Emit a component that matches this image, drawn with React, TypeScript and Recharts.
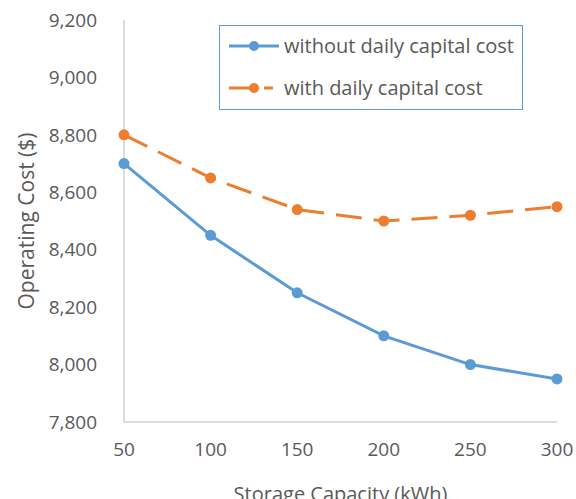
import React from "react";
import { LineChart, Line, XAxis, YAxis, Label } from "recharts";

const capacities = [50, 100, 150, 200, 250, 300];
const withoutCapital = [8700, 8450, 8250, 8100, 8000, 7950];
const withCapital = [8800, 8650, 8540, 8500, 8520, 8550];
const yTicks = [7800, 8000, 8200, 8400, 8600, 8800, 9000, 9200];

const data = capacities.map((c, i) => ({
  cap: c,
  without: withoutCapital[i],
  with: withCapital[i],
}));

const BLUE = "#5b9bd5";
const ORANGE = "#ed7d31";
const TEXT = "#595959";
const FONT = "'Open Sans', Lato, sans-serif";
const FS = 19;

const fmt = (v: number) => v.toLocaleString("en-US");

const LegendBox = () => (
  <div
    style={{
      position: "absolute",
      left: 219,
      top: 25,
      width: 304,
      height: 85,
      border: `1.5px solid ${BLUE}`,
      boxSizing: "border-box",
      fontFamily: FONT,
      fontSize: 20,
      color: TEXT,
      whiteSpace: "nowrap",
    }}
  >
    <div style={{ position: "absolute", left: 8, top: 9, display: "flex", alignItems: "center" }}>
      <svg width={52} height={14}>
        <line x1={1} y1={7} x2={51} y2={7} stroke={BLUE} strokeWidth={3} />
        <circle cx={26} cy={7} r={5} fill={BLUE} />
      </svg>
      <span style={{ marginLeft: 4, lineHeight: "22px" }}>without daily capital cost</span>
    </div>
    <div style={{ position: "absolute", left: 8, top: 51, display: "flex", alignItems: "center" }}>
      <svg width={52} height={14}>
        <line x1={1} y1={7} x2={26} y2={7} stroke={ORANGE} strokeWidth={3} />
        <circle cx={26} cy={7} r={5} fill={ORANGE} />
        <line x1={36} y1={7} x2={45} y2={7} stroke={ORANGE} strokeWidth={3} />
      </svg>
      <span style={{ marginLeft: 4, lineHeight: "22px" }}>with daily capital cost</span>
    </div>
  </div>
);

export default function App() {
  return (
    <div style={{ position: "absolute", left: 0, top: 0, width: 576, height: 499, background: "#fff" }}>
      <LineChart
        width={576}
        height={499}
        data={data}
        margin={{ top: 20, right: 19, bottom: 37, left: 64 }}
      >
        <XAxis
          dataKey="cap"
          type="number"
          domain={[50, 300]}
          ticks={capacities}
          tickLine={false}
          tickSize={0}
          tickMargin={21}
          axisLine={{ stroke: "#d0d0d0", strokeWidth: 1.5 }}
          tick={{ fill: TEXT, fontSize: FS, fontFamily: FONT }}
          height={40}
        >
          <Label
            value="Storage Capacity (kWh)"
            position="bottom"
            offset={25}
            style={{ fill: TEXT, fontSize: 20, fontFamily: FONT }}
          />
        </XAxis>
        <YAxis
          type="number"
          domain={[7800, 9200]}
          ticks={yTicks}
          tickFormatter={fmt}
          tickLine={false}
          tickSize={0}
          tickMargin={27}
          axisLine={{ stroke: "#d0d0d0", strokeWidth: 1.5 }}
          tick={{ fill: TEXT, fontSize: FS, fontFamily: FONT }}
          width={60}
        >
          <Label
            value="Operating Cost ($)"
            angle={-90}
            position="left"
            offset={37}
            style={{ fill: TEXT, fontSize: 21, fontFamily: FONT, textAnchor: "middle" }}
          />
        </YAxis>
        <Line
          dataKey="without"
          stroke={BLUE}
          strokeWidth={3}
          dot={{ r: 5.5, fill: BLUE, stroke: BLUE, strokeWidth: 0 }}
          activeDot={false}
          isAnimationActive={false}
        />
        <Line
          dataKey="with"
          stroke={ORANGE}
          strokeWidth={3}
          strokeDasharray="26 12"
          dot={{ r: 5.5, fill: ORANGE, stroke: ORANGE, strokeWidth: 0, strokeDasharray: "" }}
          activeDot={false}
          isAnimationActive={false}
        />
      </LineChart>
      <LegendBox />
    </div>
  );
}
